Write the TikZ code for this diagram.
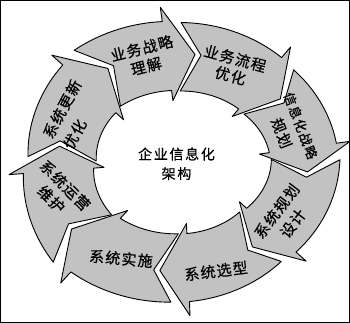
\documentclass[tikz,border=0pt]{standalone}
\usepackage{fontspec}
\newfontfamily\cjk[LetterSpace=8,FakeBold=0.6]{Noto Sans CJK SC}
\newfontfamily\cjks[LetterSpace=10,FakeBold=0.6]{Noto Sans CJK SC}
\newfontfamily\cjkc[LetterSpace=12,FakeBold=0.5]{Noto Sans CJK SC}
\definecolor{segfill}{RGB}{194,194,194}
\newcommand\ringseg[4]{%
  \pgfmathsetmacro\ga{#1}\pgfmathsetmacro\gb{#2}%
  \pgfmathsetmacro\qa{#3}\pgfmathsetmacro\qb{#4}%
  \pgfmathsetmacro\tA{\ga-\GP}%
  \pgfmathsetmacro\tO{\ga+\CO-\GP}%
  \pgfmathsetmacro\tI{\ga+\CI-\GP}%
  \pgfmathsetmacro\hB{\gb+\HL}%
  \filldraw[segment]
    ({px(\tA,\DT)},{py(\tA,\DT)})
    -- ({px(\tO,\WO)},{py(\tO,\WO)})
    -- plot[domain=0:1, samples=18, variable=\s] ({px(\tO+(\hB-\tO)*\s,\WO)},{py(\tO+(\hB-\tO)*\s,\WO)})
    -- ({px(\hB,\BO)},{py(\hB,\BO)})
    -- ({px(\gb,\DT)},{py(\gb,\DT)})
    -- ({px(\hB,\BI)},{py(\hB,\BI)})
    -- ({px(\hB,-\WO)},{py(\hB,-\WO)})
    -- plot[domain=0:1, samples=18, variable=\s] ({px(\hB+(\tI-\hB)*\s,-\WO)},{py(\hB+(\tI-\hB)*\s,-\WO)})
    -- cycle;}
\begin{document}
\begin{tikzpicture}[x=1pt,y=1pt,
  segment/.style={fill=segfill, draw=black, line width=0.9pt, line join=round},
  lab/.style={font=\cjk\fontsize{15}{#1}\selectfont, align=center, inner sep=0pt},
  ctr/.style={font=\cjkc\fontsize{14}{#1}\selectfont, align=center, inner sep=0pt},
  declare function={
    qf(\t)=\qa+(\qb-\qa)*(\t-\ga)/(\gb-\ga);
    px(\t,\d)=\cx+qf(\t)*(\rx+\d)*cos(\t);
    py(\t,\d)=\cy+qf(\t)*(\ry+\d)*sin(\t);
  }]
\useasboundingbox (0,0) rectangle (350,323);
\fill[white] (0,0) rectangle (350,323);
\def\cx{183.5}\def\cy{160.5}\def\rx{121}\def\ry{105}
\def\HL{13}\def\GP{2.8}\def\WO{34}\def\BO{48}\def\BI{-44}\def\DT{3}
\def\CO{8.96}\def\CI{10.23}
% segments, clockwise
\ringseg{125.0}{84.7}{1.063}{1.004}
\ringseg{84.7}{37.0}{1.004}{0.978}
\ringseg{37.0}{-5.0}{0.978}{1.004}
\ringseg{-5.0}{-54.6}{1.004}{0.959}
\ringseg{-54.6}{-100.8}{0.959}{1.018}
\ringseg{-100.8}{-145.7}{1.018}{1.093}
\ringseg{-145.7}{-188.6}{1.093}{1.011}
\ringseg{171.4}{125.0}{1.011}{1.063}
% labels
\node[lab=18.4, rotate=14] (n1) at (144,265.75) {业务战略\\理解};
\node[lab=17.6, rotate=-15] (n2) at (232.75,256) {业务流程\\优化};
\node[lab=21, rotate=-69] (n3) at (290.75,193.5) {{\cjks\fontsize{13}{16}\selectfont 信息化战略}\\规划};
\node[lab=20.3, rotate=53] (n4) at (284.75,105.75) {系统规划\\设计};
\node[lab=18, rotate=7] (n5) at (216,52) {系统选型};
\node[lab=18, rotate=-5] (n6) at (121,64.5) {系统实施};
\node[lab=19.5, rotate=-45] (n7) at (58.25,130.75) {系统运营\\维护};
\node[lab=23, align=left, rotate=62] (n8) at (72.2,208.6) {系统更新\\优化};
\node[ctr=19.5] (c) at (176.5,159.25) {企业信息化\\架构};
% frame
\draw[line width=1.3pt] (0.65,0.65) rectangle (349.35,322.35);
\end{tikzpicture}
\end{document}
